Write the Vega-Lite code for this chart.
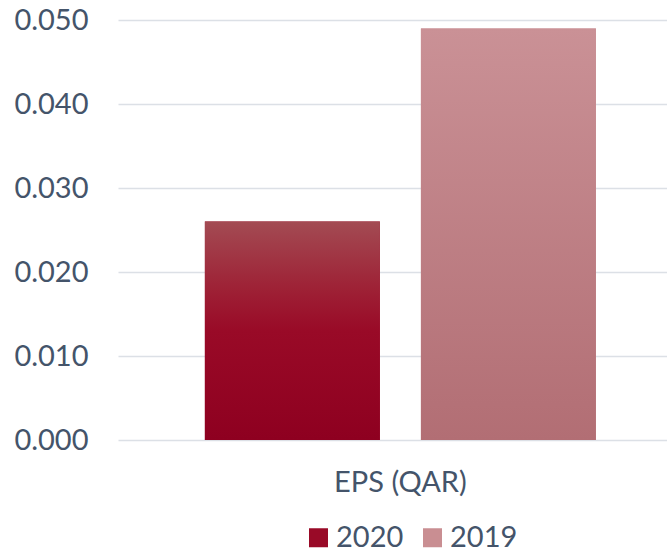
{
  "$schema": "https://vega.github.io/schema/vega-lite/v6.json",
  "width": 549,
  "height": 420,
  "autosize": "none",
  "padding": {"left": 118, "top": 20, "right": 0, "bottom": 113},
  "background": "white",
  "config": {"view": {"stroke": null}, "font": "Lato"},
  "data": {"values": [
    {"category": "EPS (QAR)", "year": "2020", "eps": 0.026},
    {"category": "EPS (QAR)", "year": "2019", "eps": 0.049}
  ]},
  "encoding": {
    "x": {"field": "category", "type": "nominal",
      "scale": {"paddingInner": 0, "paddingOuter": 0.202, "align": 0.55},
      "axis": {"title": null, "domain": false, "ticks": false, "labelAngle": 0, "labelFontSize": 29, "labelColor": "#44546A", "labelPadding": 28, "labelFont": "Lato"}},
    "xOffset": {"field": "year", "type": "nominal",
      "scale": {"domain": ["2020", "2019"], "paddingInner": 0.19, "paddingOuter": 0}},
    "y": {"field": "eps", "type": "quantitative",
      "scale": {"domain": [0, 0.05]},
      "axis": {"title": null, "format": ".3f", "values": [0, 0.01, 0.02, 0.03, 0.04, 0.05], "domain": false, "ticks": false, "labelFontSize": 29, "labelColor": "#44546A", "labelPadding": 30, "labelFont": "Lato", "gridColor": "#DCE0E6", "gridWidth": 1.5}}
  },
  "layer": [
    {
      "mark": {"type": "bar"},
      "encoding": {
        "color": {"field": "year", "type": "nominal",
          "scale": {"domain": ["2020", "2019"], "range": ["#990A27", "#C98E92"]},
          "legend": {"title": null, "orient": "none", "legendX": 186, "legendY": 503, "padding": 0, "direction": "horizontal", "symbolType": "square", "symbolSize": 361, "symbolStrokeWidth": 0, "labelFontSize": 29, "labelColor": "#44546A", "labelFont": "Lato", "columnPadding": 14, "labelOffset": 3}
        }
      }
    },
    {
      "transform": [{"filter": "datum.year === '2020'"}],
      "mark": {"type": "bar", "color": {"gradient": "linear", "x1": 0, "y1": 0, "x2": 0, "y2": 1, "stops": [{"offset": 0, "color": "#A34B53"}, {"offset": 0.3, "color": "#9E2236"}, {"offset": 0.5, "color": "#990A27"}, {"offset": 1, "color": "#8E0020"}]}}
    },
    {
      "transform": [{"filter": "datum.year === '2019'"}],
      "mark": {"type": "bar", "color": {"gradient": "linear", "x1": 0, "y1": 0, "x2": 0, "y2": 1, "stops": [{"offset": 0, "color": "#CA9196"}, {"offset": 1, "color": "#B26E74"}]}}
    }
  ]
}
